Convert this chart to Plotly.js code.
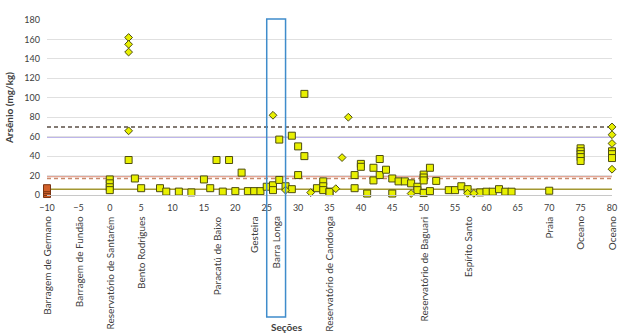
<!DOCTYPE html>
<html>
<head>
<meta charset="utf-8">
<script src="https://cdn.plot.ly/plotly-3.0.1.min.js"></script>
<style>html,body{margin:0;padding:0;background:#fff;}#chart{width:621px;height:335px;}</style>
</head>
<body>
<div id="chart"></div>
<script>
// Barragem de Germano samples (orange squares)
const germanoX = [-10, -10, -10, -10];
const germanoY = [1, 3, 5, 7];

// Sediment samples (yellow squares)
const squareX = [0,0,0,0, 3, 4, 5, 8, 9, 11, 13, 15, 16, 17, 18, 19, 20, 21, 22, 23, 24, 25,
  26,26, 27,27, 28, 29,29, 30,30, 31,31, 33, 34,34,34, 35,35, 39,39, 40,40, 41, 42,42, 43,43, 44,
  45,45, 46, 47, 48, 49,49, 50,50,50,50, 51,51, 52, 54, 55, 56, 57, 59, 60, 61, 62, 63, 64, 70,
  75,75,75,75,75, 80,80,80];
const squareY = [16,12,8,5, 36, 17, 7, 7, 3.5, 3.5, 2.7, 16, 7, 36, 3.5, 36, 4, 23, 4, 4, 4, 8.5,
  10,5, 15.5,57, 9, 6,61, 50,20.5, 104,40, 7, 14,9,5, 3.5,3, 20.5,7, 32,29, 1.5, 28,15, 37,20.5, 26,
  17,1.5, 14, 14, 12, 8.5,5, 21,18,15,2, 28,4, 14.5, 5, 5, 9, 6, 2.7, 3.4, 3.4, 6, 3.4, 3.4, 4.4,
  48,45,42,39,35, 45,42,38];

// Other samples (yellow diamonds)
const diamondX = [3,3,3,3, 26, 28, 32, 36, 37, 38, 48, 57, 58, 80,80,80,80];
const diamondY = [162,155,147,66, 82, 5, 2.5, 6.5, 38.5, 80, 1.5, 1.7, 1.7, 70,62,53,26.5];

// Reference levels (mg/kg)
const refLevels = [70, 60, 19, 17, 5.9];
const refColors = ['#5b4f45', '#7f6fd6', '#e3a595', '#c98a6c', '#a39733'];
const refDash = ['4px,3px', 'solid', 'solid', '4px,3px', 'solid'];

// Section labels along the river
const sectionPos = [-10, -5, 0, 5, 17, 23, 26.5, 35, 50, 57, 70, 75, 80];
const sectionNames = ['Barragem de Germano', 'Barragem de Fundão', 'Reservatório de Santarém',
  'Bento Rodrigues', 'Paracatú de Baixo', 'Gesteira', 'Barra Longa', 'Reservatório de Candonga',
  'Reservatório de Baguari', 'Espírito Santo', 'Praia', 'Oceano', 'Oceano'];

// Highlighted section range (Barra Longa)
const highlightRange = [25, 28];

const FONT = 'Lato, "Liberation Sans", sans-serif';
const yellow = '#e8f000';
const edge = '#4d4d10';

const traces = [
  {x: squareX, y: squareY, type: 'scatter', mode: 'markers', cliponaxis: false,
   marker: {symbol: 'square', size: 7, color: yellow, line: {color: edge, width: 1}}},
  {x: diamondX, y: diamondY, type: 'scatter', mode: 'markers', cliponaxis: false,
   marker: {symbol: 'diamond', size: 6, color: yellow, line: {color: edge, width: 1}}},
  {x: germanoX, y: germanoY, type: 'scatter', mode: 'markers', cliponaxis: false,
   marker: {symbol: 'square', size: 7, color: '#d2602a', line: {color: '#7a3412', width: 1}}}
];

const shapes = refLevels.map((v, i) => ({
  type: 'line', xref: 'paper', x0: 0, x1: 1, yref: 'y', y0: v, y1: v, layer: 'below',
  line: {color: refColors[i], width: 1.5, dash: refDash[i]}
}));
shapes.push({
  type: 'rect', xref: 'x', x0: highlightRange[0], x1: highlightRange[1],
  yref: 'paper', y0: -0.697, y1: 1.006, layer: 'above',
  line: {color: '#3f8ccb', width: 1.5}, fillcolor: 'rgba(0,0,0,0)'
});

const annotations = sectionNames.map((t, i) => ({
  x: sectionPos[i], xref: 'x', y: -0.11, yref: 'paper', text: t, textangle: -90,
  showarrow: false, xanchor: 'center', yanchor: 'top',
  font: {family: FONT, size: 10, color: '#404040'}
}));
annotations.push({
  x: (287 - 47) / 565, xref: 'paper', y: -(327 - 195) / 174.5, yref: 'paper',
  text: '<b>Seções</b>', showarrow: false, xanchor: 'center', yanchor: 'middle',
  font: {family: FONT, size: 10, color: '#404040'}
});

const layout = {
  width: 621, height: 335,
  margin: {l: 47, r: 9, t: 20, b: 140, pad: 0},
  paper_bgcolor: '#ffffff', plot_bgcolor: '#ffffff',
  showlegend: false,
  font: {family: FONT, size: 9, color: '#404040'},
  xaxis: {range: [-10, 80], dtick: 5, tick0: -10, showgrid: false, zeroline: false,
    showline: true, linecolor: '#c8c8c8', linewidth: 1, ticks: '', ticklabelstandoff: 4,
    tickfont: {family: FONT, size: 9, color: '#404040'}},
  yaxis: {range: [0, 180], dtick: 20, showgrid: true, gridcolor: '#e0e0e0', zeroline: true,
    zerolinecolor: '#c8c8c8', ticks: '', ticklabelstandoff: 6,
    tickfont: {family: FONT, size: 9, color: '#404040'},
    title: {text: '<b>Arsênio (mg/kg)</b>', standoff: 8, font: {family: FONT, size: 10, color: '#404040'}}},
  shapes: shapes,
  annotations: annotations
};

Plotly.newPlot('chart', traces, layout, {displayModeBar: false, staticPlot: true});
</script>
</body>
</html>
